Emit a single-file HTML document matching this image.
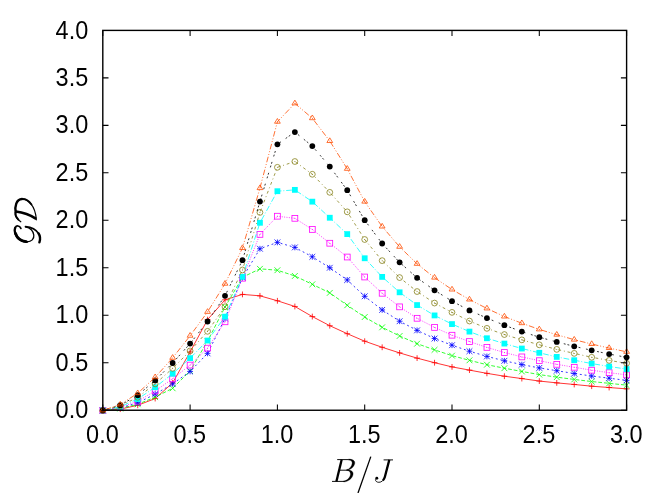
<!DOCTYPE html>
<html><head><meta charset="utf-8"><title>GD vs B/J</title>
<style>
html,body{margin:0;padding:0;background:#fff;}
body{width:664px;height:493px;overflow:hidden;font-family:"Liberation Sans",sans-serif;}
svg{display:block;}
</style></head><body>
<svg width="664" height="493" viewBox="0 0 664 493">
<rect width="664" height="493" fill="#fff"/>
<g opacity="0.999" font-family="Liberation Sans, sans-serif" font-size="22.8" fill="#000">
<text transform="translate(88.2,418.35) scale(1.03,1.14)" text-anchor="end">0.0</text>
<text transform="translate(88.2,370.87) scale(1.03,1.14)" text-anchor="end">0.5</text>
<text transform="translate(88.2,323.39) scale(1.03,1.14)" text-anchor="end">1.0</text>
<text transform="translate(88.2,275.91) scale(1.03,1.14)" text-anchor="end">1.5</text>
<text transform="translate(88.2,228.42) scale(1.03,1.14)" text-anchor="end">2.0</text>
<text transform="translate(88.2,180.94) scale(1.03,1.14)" text-anchor="end">2.5</text>
<text transform="translate(88.2,133.46) scale(1.03,1.14)" text-anchor="end">3.0</text>
<text transform="translate(88.2,85.98) scale(1.03,1.14)" text-anchor="end">3.5</text>
<text transform="translate(88.2,38.5) scale(1.03,1.14)" text-anchor="end">4.0</text>
<text transform="translate(102.4,443.0) scale(1.03,1.14)" text-anchor="middle">0.0</text>
<text transform="translate(189.7,443.0) scale(1.03,1.14)" text-anchor="middle">0.5</text>
<text transform="translate(277,443.0) scale(1.03,1.14)" text-anchor="middle">1.0</text>
<text transform="translate(364.3,443.0) scale(1.03,1.14)" text-anchor="middle">1.5</text>
<text transform="translate(451.6,443.0) scale(1.03,1.14)" text-anchor="middle">2.0</text>
<text transform="translate(538.9,443.0) scale(1.03,1.14)" text-anchor="middle">2.5</text>
<text transform="translate(626.2,443.0) scale(1.03,1.14)" text-anchor="middle">3.0</text>
</g>
<g fill="none" stroke="#ff0000" stroke-width="0.8">
<path d="M102.8 410.45L120.26 409.12L137.72 405.31L155.18 398.56L172.64 382.87L190.1 351.95L207.56 319.61L225.02 299.83L242.48 294.4L259.94 295.83L277.4 300.78L294.86 306.48L312.32 316.57L329.78 325.7L347.24 333.69L364.7 341.2L382.16 347.29L399.62 352.9L417.08 358.13L434.54 362.7L452 366.89L469.46 370.12L486.92 373.35L504.38 376.21L521.84 378.58L539.3 381.06L556.76 382.87L574.22 384.48L591.68 386.19L609.14 387.53L626.6 388.86"/>
<g stroke-width="0.8"><path d="M102.8 407.55V413.35M99.9 410.45H105.7"/><path d="M120.26 406.22V412.02M117.36 409.12H123.16"/><path d="M137.72 402.41V408.21M134.82 405.31H140.62"/><path d="M155.18 395.66V401.46M152.28 398.56H158.08"/><path d="M172.64 379.97V385.77M169.74 382.87H175.54"/><path d="M190.1 349.05V354.85M187.2 351.95H193"/><path d="M207.56 316.71V322.51M204.66 319.61H210.46"/><path d="M225.02 296.93V302.73M222.12 299.83H227.92"/><path d="M242.48 291.5V297.3M239.58 294.4H245.38"/><path d="M259.94 292.93V298.73M257.04 295.83H262.84"/><path d="M277.4 297.88V303.68M274.5 300.78H280.3"/><path d="M294.86 303.58V309.38M291.96 306.48H297.76"/><path d="M312.32 313.67V319.47M309.42 316.57H315.22"/><path d="M329.78 322.8V328.6M326.88 325.7H332.68"/><path d="M347.24 330.79V336.59M344.34 333.69H350.14"/><path d="M364.7 338.3V344.1M361.8 341.2H367.6"/><path d="M382.16 344.39V350.19M379.26 347.29H385.06"/><path d="M399.62 350V355.8M396.72 352.9H402.52"/><path d="M417.08 355.23V361.03M414.18 358.13H419.98"/><path d="M434.54 359.8V365.6M431.64 362.7H437.44"/><path d="M452 363.99V369.79M449.1 366.89H454.9"/><path d="M469.46 367.22V373.02M466.56 370.12H472.36"/><path d="M486.92 370.45V376.25M484.02 373.35H489.82"/><path d="M504.38 373.31V379.11M501.48 376.21H507.28"/><path d="M521.84 375.68V381.48M518.94 378.58H524.74"/><path d="M539.3 378.16V383.96M536.4 381.06H542.2"/><path d="M556.76 379.97V385.77M553.86 382.87H559.66"/><path d="M574.22 381.58V387.38M571.32 384.48H577.12"/><path d="M591.68 383.29V389.09M588.78 386.19H594.58"/><path d="M609.14 384.63V390.43M606.24 387.53H612.04"/><path d="M626.6 385.96V391.76M623.7 388.86H629.5"/></g>
</g>
<g fill="none" stroke="#00ff00" stroke-width="0.8">
<path d="M102.8 410.45L120.26 408.55L137.72 404.27L155.18 397.13L172.64 388.29L190.1 370.98L207.56 341.01L225.02 307.05L242.48 277.28L259.94 268.82L277.4 270.24L294.86 275.95L312.32 284.32L329.78 292.88L347.24 305.25L364.7 317.04L382.16 327.32L399.62 335.97L417.08 343.68L434.54 349.86L452 355.66L469.46 360.32L486.92 364.7L504.38 368.22L521.84 371.45L539.3 374.59L556.76 377.16L574.22 379.44L591.68 381.53L609.14 383.34L626.6 385.15" stroke-dasharray="3.8 1.9"/>
<g stroke-width="0.8"><path d="M99.9 407.55L105.7 413.35M99.9 413.35L105.7 407.55"/><path d="M117.36 405.65L123.16 411.45M117.36 411.45L123.16 405.65"/><path d="M134.82 401.37L140.62 407.17M134.82 407.17L140.62 401.37"/><path d="M152.28 394.23L158.08 400.03M152.28 400.03L158.08 394.23"/><path d="M169.74 385.39L175.54 391.19M169.74 391.19L175.54 385.39"/><path d="M187.2 368.08L193 373.88M187.2 373.88L193 368.08"/><path d="M204.66 338.11L210.46 343.91M204.66 343.91L210.46 338.11"/><path d="M222.12 304.15L227.92 309.95M222.12 309.95L227.92 304.15"/><path d="M239.58 274.38L245.38 280.18M239.58 280.18L245.38 274.38"/><path d="M257.04 265.92L262.84 271.72M257.04 271.72L262.84 265.92"/><path d="M274.5 267.34L280.3 273.14M274.5 273.14L280.3 267.34"/><path d="M291.96 273.05L297.76 278.85M291.96 278.85L297.76 273.05"/><path d="M309.42 281.42L315.22 287.22M309.42 287.22L315.22 281.42"/><path d="M326.88 289.98L332.68 295.78M326.88 295.78L332.68 289.98"/><path d="M344.34 302.35L350.14 308.15M344.34 308.15L350.14 302.35"/><path d="M361.8 314.14L367.6 319.94M361.8 319.94L367.6 314.14"/><path d="M379.26 324.42L385.06 330.22M379.26 330.22L385.06 324.42"/><path d="M396.72 333.07L402.52 338.87M396.72 338.87L402.52 333.07"/><path d="M414.18 340.78L419.98 346.58M414.18 346.58L419.98 340.78"/><path d="M431.64 346.96L437.44 352.76M431.64 352.76L437.44 346.96"/><path d="M449.1 352.76L454.9 358.56M449.1 358.56L454.9 352.76"/><path d="M466.56 357.42L472.36 363.22M466.56 363.22L472.36 357.42"/><path d="M484.02 361.8L489.82 367.6M484.02 367.6L489.82 361.8"/><path d="M501.48 365.32L507.28 371.12M501.48 371.12L507.28 365.32"/><path d="M518.94 368.55L524.74 374.35M518.94 374.35L524.74 368.55"/><path d="M536.4 371.69L542.2 377.49M536.4 377.49L542.2 371.69"/><path d="M553.86 374.26L559.66 380.06M553.86 380.06L559.66 374.26"/><path d="M571.32 376.54L577.12 382.34M571.32 382.34L577.12 376.54"/><path d="M588.78 378.63L594.58 384.43M588.78 384.43L594.58 378.63"/><path d="M606.24 380.44L612.04 386.24M606.24 386.24L612.04 380.44"/><path d="M623.7 382.25L629.5 388.05M623.7 388.05L629.5 382.25"/></g>
</g>
<g fill="none" stroke="#0000ff" stroke-width="0.8">
<path d="M102.8 410.45L120.26 407.98L137.72 402.84L155.18 394.09L172.64 383.91L190.1 371.45L207.56 353.38L225.02 318.47L242.48 277.76L259.94 248.75L277.4 242.37L294.86 247.41L312.32 256.83L329.78 267.77L347.24 279.95L364.7 296.31L382.16 309.91L399.62 321.23L417.08 330.36L434.54 338.54L452 345.2L469.46 351.19L486.92 356.42L504.38 360.8L521.84 364.6L539.3 367.93L556.76 370.69L574.22 373.54L591.68 376.02L609.14 378.2L626.6 380.39" stroke-dasharray="1.9 2.85"/>
<g stroke-width="0.8"><path d="M102.8 407.55V413.35M99.9 410.45H105.7"/><path d="M99.9 407.55L105.7 413.35M99.9 413.35L105.7 407.55"/><path d="M120.26 405.08V410.88M117.36 407.98H123.16"/><path d="M117.36 405.08L123.16 410.88M117.36 410.88L123.16 405.08"/><path d="M137.72 399.94V405.74M134.82 402.84H140.62"/><path d="M134.82 399.94L140.62 405.74M134.82 405.74L140.62 399.94"/><path d="M155.18 391.19V396.99M152.28 394.09H158.08"/><path d="M152.28 391.19L158.08 396.99M152.28 396.99L158.08 391.19"/><path d="M172.64 381.01V386.81M169.74 383.91H175.54"/><path d="M169.74 381.01L175.54 386.81M169.74 386.81L175.54 381.01"/><path d="M190.1 368.55V374.35M187.2 371.45H193"/><path d="M187.2 368.55L193 374.35M187.2 374.35L193 368.55"/><path d="M207.56 350.48V356.28M204.66 353.38H210.46"/><path d="M204.66 350.48L210.46 356.28M204.66 356.28L210.46 350.48"/><path d="M225.02 315.57V321.37M222.12 318.47H227.92"/><path d="M222.12 315.57L227.92 321.37M222.12 321.37L227.92 315.57"/><path d="M242.48 274.86V280.66M239.58 277.76H245.38"/><path d="M239.58 274.86L245.38 280.66M239.58 280.66L245.38 274.86"/><path d="M259.94 245.85V251.65M257.04 248.75H262.84"/><path d="M257.04 245.85L262.84 251.65M257.04 251.65L262.84 245.85"/><path d="M277.4 239.47V245.27M274.5 242.37H280.3"/><path d="M274.5 239.47L280.3 245.27M274.5 245.27L280.3 239.47"/><path d="M294.86 244.51V250.31M291.96 247.41H297.76"/><path d="M291.96 244.51L297.76 250.31M291.96 250.31L297.76 244.51"/><path d="M312.32 253.93V259.73M309.42 256.83H315.22"/><path d="M309.42 253.93L315.22 259.73M309.42 259.73L315.22 253.93"/><path d="M329.78 264.87V270.67M326.88 267.77H332.68"/><path d="M326.88 264.87L332.68 270.67M326.88 270.67L332.68 264.87"/><path d="M347.24 277.05V282.85M344.34 279.95H350.14"/><path d="M344.34 277.05L350.14 282.85M344.34 282.85L350.14 277.05"/><path d="M364.7 293.41V299.21M361.8 296.31H367.6"/><path d="M361.8 293.41L367.6 299.21M361.8 299.21L367.6 293.41"/><path d="M382.16 307.01V312.81M379.26 309.91H385.06"/><path d="M379.26 307.01L385.06 312.81M379.26 312.81L385.06 307.01"/><path d="M399.62 318.33V324.13M396.72 321.23H402.52"/><path d="M396.72 318.33L402.52 324.13M396.72 324.13L402.52 318.33"/><path d="M417.08 327.46V333.26M414.18 330.36H419.98"/><path d="M414.18 327.46L419.98 333.26M414.18 333.26L419.98 327.46"/><path d="M434.54 335.64V341.44M431.64 338.54H437.44"/><path d="M431.64 335.64L437.44 341.44M431.64 341.44L437.44 335.64"/><path d="M452 342.3V348.1M449.1 345.2H454.9"/><path d="M449.1 342.3L454.9 348.1M449.1 348.1L454.9 342.3"/><path d="M469.46 348.29V354.09M466.56 351.19H472.36"/><path d="M466.56 348.29L472.36 354.09M466.56 354.09L472.36 348.29"/><path d="M486.92 353.52V359.32M484.02 356.42H489.82"/><path d="M484.02 353.52L489.82 359.32M484.02 359.32L489.82 353.52"/><path d="M504.38 357.9V363.7M501.48 360.8H507.28"/><path d="M501.48 357.9L507.28 363.7M501.48 363.7L507.28 357.9"/><path d="M521.84 361.7V367.5M518.94 364.6H524.74"/><path d="M518.94 361.7L524.74 367.5M518.94 367.5L524.74 361.7"/><path d="M539.3 365.03V370.83M536.4 367.93H542.2"/><path d="M536.4 365.03L542.2 370.83M536.4 370.83L542.2 365.03"/><path d="M556.76 367.79V373.59M553.86 370.69H559.66"/><path d="M553.86 367.79L559.66 373.59M553.86 373.59L559.66 367.79"/><path d="M574.22 370.64V376.44M571.32 373.54H577.12"/><path d="M571.32 370.64L577.12 376.44M571.32 376.44L577.12 370.64"/><path d="M591.68 373.12V378.92M588.78 376.02H594.58"/><path d="M588.78 373.12L594.58 378.92M588.78 378.92L594.58 373.12"/><path d="M609.14 375.3V381.1M606.24 378.2H612.04"/><path d="M606.24 375.3L612.04 381.1M606.24 381.1L612.04 375.3"/><path d="M626.6 377.49V383.29M623.7 380.39H629.5"/><path d="M623.7 377.49L629.5 383.29M623.7 383.29L629.5 377.49"/></g>
</g>
<g fill="none" stroke="#ff00ff" stroke-width="0.8">
<path d="M102.8 410.45L120.26 407.31L137.72 401.22L155.18 390.95L172.64 378.78L190.1 365.08L207.56 348.15L225.02 321.8L242.48 278.23L259.94 234.38L277.4 216.21L294.86 218.31L312.32 229.44L329.78 243.23L347.24 257.02L364.7 277L382.16 293.26L399.62 306.86L417.08 318.28L434.54 327.41L452 335.21L469.46 341.58L486.92 347.39L504.38 352.52L521.84 356.9L539.3 360.7L556.76 364.32L574.22 367.27L591.68 370.21L609.14 372.69L626.6 374.88" stroke-dasharray="0.95 1.42"/>
<g stroke-width="0.8"><rect x="99.9" y="407.55" width="5.8" height="5.8"/><circle cx="102.8" cy="410.45" r="0.5" fill="#ff00ff" stroke="none"/><rect x="117.36" y="404.41" width="5.8" height="5.8"/><circle cx="120.26" cy="407.31" r="0.5" fill="#ff00ff" stroke="none"/><rect x="134.82" y="398.32" width="5.8" height="5.8"/><circle cx="137.72" cy="401.22" r="0.5" fill="#ff00ff" stroke="none"/><rect x="152.28" y="388.05" width="5.8" height="5.8"/><circle cx="155.18" cy="390.95" r="0.5" fill="#ff00ff" stroke="none"/><rect x="169.74" y="375.88" width="5.8" height="5.8"/><circle cx="172.64" cy="378.78" r="0.5" fill="#ff00ff" stroke="none"/><rect x="187.2" y="362.18" width="5.8" height="5.8"/><circle cx="190.1" cy="365.08" r="0.5" fill="#ff00ff" stroke="none"/><rect x="204.66" y="345.25" width="5.8" height="5.8"/><circle cx="207.56" cy="348.15" r="0.5" fill="#ff00ff" stroke="none"/><rect x="222.12" y="318.9" width="5.8" height="5.8"/><circle cx="225.02" cy="321.8" r="0.5" fill="#ff00ff" stroke="none"/><rect x="239.58" y="275.33" width="5.8" height="5.8"/><circle cx="242.48" cy="278.23" r="0.5" fill="#ff00ff" stroke="none"/><rect x="257.04" y="231.48" width="5.8" height="5.8"/><circle cx="259.94" cy="234.38" r="0.5" fill="#ff00ff" stroke="none"/><rect x="274.5" y="213.31" width="5.8" height="5.8"/><circle cx="277.4" cy="216.21" r="0.5" fill="#ff00ff" stroke="none"/><rect x="291.96" y="215.41" width="5.8" height="5.8"/><circle cx="294.86" cy="218.31" r="0.5" fill="#ff00ff" stroke="none"/><rect x="309.42" y="226.54" width="5.8" height="5.8"/><circle cx="312.32" cy="229.44" r="0.5" fill="#ff00ff" stroke="none"/><rect x="326.88" y="240.33" width="5.8" height="5.8"/><circle cx="329.78" cy="243.23" r="0.5" fill="#ff00ff" stroke="none"/><rect x="344.34" y="254.12" width="5.8" height="5.8"/><circle cx="347.24" cy="257.02" r="0.5" fill="#ff00ff" stroke="none"/><rect x="361.8" y="274.1" width="5.8" height="5.8"/><circle cx="364.7" cy="277" r="0.5" fill="#ff00ff" stroke="none"/><rect x="379.26" y="290.36" width="5.8" height="5.8"/><circle cx="382.16" cy="293.26" r="0.5" fill="#ff00ff" stroke="none"/><rect x="396.72" y="303.96" width="5.8" height="5.8"/><circle cx="399.62" cy="306.86" r="0.5" fill="#ff00ff" stroke="none"/><rect x="414.18" y="315.38" width="5.8" height="5.8"/><circle cx="417.08" cy="318.28" r="0.5" fill="#ff00ff" stroke="none"/><rect x="431.64" y="324.51" width="5.8" height="5.8"/><circle cx="434.54" cy="327.41" r="0.5" fill="#ff00ff" stroke="none"/><rect x="449.1" y="332.31" width="5.8" height="5.8"/><circle cx="452" cy="335.21" r="0.5" fill="#ff00ff" stroke="none"/><rect x="466.56" y="338.68" width="5.8" height="5.8"/><circle cx="469.46" cy="341.58" r="0.5" fill="#ff00ff" stroke="none"/><rect x="484.02" y="344.49" width="5.8" height="5.8"/><circle cx="486.92" cy="347.39" r="0.5" fill="#ff00ff" stroke="none"/><rect x="501.48" y="349.62" width="5.8" height="5.8"/><circle cx="504.38" cy="352.52" r="0.5" fill="#ff00ff" stroke="none"/><rect x="518.94" y="354" width="5.8" height="5.8"/><circle cx="521.84" cy="356.9" r="0.5" fill="#ff00ff" stroke="none"/><rect x="536.4" y="357.8" width="5.8" height="5.8"/><circle cx="539.3" cy="360.7" r="0.5" fill="#ff00ff" stroke="none"/><rect x="553.86" y="361.42" width="5.8" height="5.8"/><circle cx="556.76" cy="364.32" r="0.5" fill="#ff00ff" stroke="none"/><rect x="571.32" y="364.37" width="5.8" height="5.8"/><circle cx="574.22" cy="367.27" r="0.5" fill="#ff00ff" stroke="none"/><rect x="588.78" y="367.31" width="5.8" height="5.8"/><circle cx="591.68" cy="370.21" r="0.5" fill="#ff00ff" stroke="none"/><rect x="606.24" y="369.79" width="5.8" height="5.8"/><circle cx="609.14" cy="372.69" r="0.5" fill="#ff00ff" stroke="none"/><rect x="623.7" y="371.98" width="5.8" height="5.8"/><circle cx="626.6" cy="374.88" r="0.5" fill="#ff00ff" stroke="none"/></g>
</g>
<g fill="none" stroke="#00ffff" stroke-width="0.8">
<path d="M102.8 410.45L120.26 406.65L137.72 399.04L155.18 387.24L172.64 373.73L190.1 358.13L207.56 340.54L225.02 316.66L242.48 276.81L259.94 222.78L277.4 191.2L294.86 189.87L312.32 201.66L329.78 217.74L347.24 234.1L364.7 258.26L382.16 276.9L399.62 292.31L417.08 305.06L434.54 315.43L452 324.08L469.46 331.6L486.92 338.25L504.38 343.58L521.84 348.53L539.3 352.81L556.76 356.9L574.22 360.23L591.68 363.56L609.14 366.5L626.6 369.07" stroke-dasharray="5.7 1.9 0.95 1.9"/>
<g stroke-width="0.8"><rect x="99.9" y="407.55" width="5.8" height="5.8" fill="#00ffff" stroke="none"/><rect x="117.36" y="403.75" width="5.8" height="5.8" fill="#00ffff" stroke="none"/><rect x="134.82" y="396.14" width="5.8" height="5.8" fill="#00ffff" stroke="none"/><rect x="152.28" y="384.34" width="5.8" height="5.8" fill="#00ffff" stroke="none"/><rect x="169.74" y="370.83" width="5.8" height="5.8" fill="#00ffff" stroke="none"/><rect x="187.2" y="355.23" width="5.8" height="5.8" fill="#00ffff" stroke="none"/><rect x="204.66" y="337.64" width="5.8" height="5.8" fill="#00ffff" stroke="none"/><rect x="222.12" y="313.76" width="5.8" height="5.8" fill="#00ffff" stroke="none"/><rect x="239.58" y="273.91" width="5.8" height="5.8" fill="#00ffff" stroke="none"/><rect x="257.04" y="219.88" width="5.8" height="5.8" fill="#00ffff" stroke="none"/><rect x="274.5" y="188.3" width="5.8" height="5.8" fill="#00ffff" stroke="none"/><rect x="291.96" y="186.97" width="5.8" height="5.8" fill="#00ffff" stroke="none"/><rect x="309.42" y="198.76" width="5.8" height="5.8" fill="#00ffff" stroke="none"/><rect x="326.88" y="214.84" width="5.8" height="5.8" fill="#00ffff" stroke="none"/><rect x="344.34" y="231.2" width="5.8" height="5.8" fill="#00ffff" stroke="none"/><rect x="361.8" y="255.36" width="5.8" height="5.8" fill="#00ffff" stroke="none"/><rect x="379.26" y="274" width="5.8" height="5.8" fill="#00ffff" stroke="none"/><rect x="396.72" y="289.41" width="5.8" height="5.8" fill="#00ffff" stroke="none"/><rect x="414.18" y="302.16" width="5.8" height="5.8" fill="#00ffff" stroke="none"/><rect x="431.64" y="312.53" width="5.8" height="5.8" fill="#00ffff" stroke="none"/><rect x="449.1" y="321.18" width="5.8" height="5.8" fill="#00ffff" stroke="none"/><rect x="466.56" y="328.7" width="5.8" height="5.8" fill="#00ffff" stroke="none"/><rect x="484.02" y="335.35" width="5.8" height="5.8" fill="#00ffff" stroke="none"/><rect x="501.48" y="340.68" width="5.8" height="5.8" fill="#00ffff" stroke="none"/><rect x="518.94" y="345.63" width="5.8" height="5.8" fill="#00ffff" stroke="none"/><rect x="536.4" y="349.91" width="5.8" height="5.8" fill="#00ffff" stroke="none"/><rect x="553.86" y="354" width="5.8" height="5.8" fill="#00ffff" stroke="none"/><rect x="571.32" y="357.33" width="5.8" height="5.8" fill="#00ffff" stroke="none"/><rect x="588.78" y="360.66" width="5.8" height="5.8" fill="#00ffff" stroke="none"/><rect x="606.24" y="363.6" width="5.8" height="5.8" fill="#00ffff" stroke="none"/><rect x="623.7" y="366.17" width="5.8" height="5.8" fill="#00ffff" stroke="none"/></g>
</g>
<g fill="none" stroke="#86821a" stroke-width="0.8">
<path d="M102.8 410.45L120.26 405.88L137.72 397.32L155.18 383.91L172.64 368.31L190.1 350.9L207.56 331.31L225.02 306.77L242.48 269.96L259.94 212.41L277.4 167.32L294.86 161.52L312.32 174.27L329.78 192.34L347.24 211.84L364.7 239.52L382.16 260.64L399.62 277.57L417.08 291.55L434.54 303.06L452 312.38L469.46 321.04L486.92 328.36L504.38 334.54L521.84 339.87L539.3 344.82L556.76 349.38L574.22 353.38L591.68 357.28L609.14 360.42L626.6 363.27" stroke-dasharray="2.85 2.85 0.95 2.85"/>
<g stroke-width="0.8"><circle cx="102.8" cy="410.45" r="2.9"/><circle cx="102.8" cy="410.45" r="0.5" fill="#86821a" stroke="none"/><circle cx="120.26" cy="405.88" r="2.9"/><circle cx="120.26" cy="405.88" r="0.5" fill="#86821a" stroke="none"/><circle cx="137.72" cy="397.32" r="2.9"/><circle cx="137.72" cy="397.32" r="0.5" fill="#86821a" stroke="none"/><circle cx="155.18" cy="383.91" r="2.9"/><circle cx="155.18" cy="383.91" r="0.5" fill="#86821a" stroke="none"/><circle cx="172.64" cy="368.31" r="2.9"/><circle cx="172.64" cy="368.31" r="0.5" fill="#86821a" stroke="none"/><circle cx="190.1" cy="350.9" r="2.9"/><circle cx="190.1" cy="350.9" r="0.5" fill="#86821a" stroke="none"/><circle cx="207.56" cy="331.31" r="2.9"/><circle cx="207.56" cy="331.31" r="0.5" fill="#86821a" stroke="none"/><circle cx="225.02" cy="306.77" r="2.9"/><circle cx="225.02" cy="306.77" r="0.5" fill="#86821a" stroke="none"/><circle cx="242.48" cy="269.96" r="2.9"/><circle cx="242.48" cy="269.96" r="0.5" fill="#86821a" stroke="none"/><circle cx="259.94" cy="212.41" r="2.9"/><circle cx="259.94" cy="212.41" r="0.5" fill="#86821a" stroke="none"/><circle cx="277.4" cy="167.32" r="2.9"/><circle cx="277.4" cy="167.32" r="0.5" fill="#86821a" stroke="none"/><circle cx="294.86" cy="161.52" r="2.9"/><circle cx="294.86" cy="161.52" r="0.5" fill="#86821a" stroke="none"/><circle cx="312.32" cy="174.27" r="2.9"/><circle cx="312.32" cy="174.27" r="0.5" fill="#86821a" stroke="none"/><circle cx="329.78" cy="192.34" r="2.9"/><circle cx="329.78" cy="192.34" r="0.5" fill="#86821a" stroke="none"/><circle cx="347.24" cy="211.84" r="2.9"/><circle cx="347.24" cy="211.84" r="0.5" fill="#86821a" stroke="none"/><circle cx="364.7" cy="239.52" r="2.9"/><circle cx="364.7" cy="239.52" r="0.5" fill="#86821a" stroke="none"/><circle cx="382.16" cy="260.64" r="2.9"/><circle cx="382.16" cy="260.64" r="0.5" fill="#86821a" stroke="none"/><circle cx="399.62" cy="277.57" r="2.9"/><circle cx="399.62" cy="277.57" r="0.5" fill="#86821a" stroke="none"/><circle cx="417.08" cy="291.55" r="2.9"/><circle cx="417.08" cy="291.55" r="0.5" fill="#86821a" stroke="none"/><circle cx="434.54" cy="303.06" r="2.9"/><circle cx="434.54" cy="303.06" r="0.5" fill="#86821a" stroke="none"/><circle cx="452" cy="312.38" r="2.9"/><circle cx="452" cy="312.38" r="0.5" fill="#86821a" stroke="none"/><circle cx="469.46" cy="321.04" r="2.9"/><circle cx="469.46" cy="321.04" r="0.5" fill="#86821a" stroke="none"/><circle cx="486.92" cy="328.36" r="2.9"/><circle cx="486.92" cy="328.36" r="0.5" fill="#86821a" stroke="none"/><circle cx="504.38" cy="334.54" r="2.9"/><circle cx="504.38" cy="334.54" r="0.5" fill="#86821a" stroke="none"/><circle cx="521.84" cy="339.87" r="2.9"/><circle cx="521.84" cy="339.87" r="0.5" fill="#86821a" stroke="none"/><circle cx="539.3" cy="344.82" r="2.9"/><circle cx="539.3" cy="344.82" r="0.5" fill="#86821a" stroke="none"/><circle cx="556.76" cy="349.38" r="2.9"/><circle cx="556.76" cy="349.38" r="0.5" fill="#86821a" stroke="none"/><circle cx="574.22" cy="353.38" r="2.9"/><circle cx="574.22" cy="353.38" r="0.5" fill="#86821a" stroke="none"/><circle cx="591.68" cy="357.28" r="2.9"/><circle cx="591.68" cy="357.28" r="0.5" fill="#86821a" stroke="none"/><circle cx="609.14" cy="360.42" r="2.9"/><circle cx="609.14" cy="360.42" r="0.5" fill="#86821a" stroke="none"/><circle cx="626.6" cy="363.27" r="2.9"/><circle cx="626.6" cy="363.27" r="0.5" fill="#86821a" stroke="none"/></g>
</g>
<g fill="none" stroke="#000000" stroke-width="0.8">
<path d="M102.8 410.45L120.26 405.22L137.72 395.23L155.18 380.39L172.64 362.99L190.1 343.58L207.56 321.51L225.02 295.83L242.48 260.16L259.94 201.57L277.4 144.3L294.86 132.03L312.32 146.11L329.78 166.56L347.24 190.15L364.7 220.21L382.16 243.51L399.62 262.35L417.08 277.85L434.54 290.31L452 301.16L469.46 310.38L486.92 318.09L504.38 325.22L521.84 331.6L539.3 337.21L556.76 341.96L574.22 346.34L591.68 350.33L609.14 354.04L626.6 357.37" stroke-dasharray="1.9 1.9 1.9 5.7"/>
<g stroke-width="0.8"><circle cx="102.8" cy="410.45" r="2.9" fill="#000000" stroke="none"/><circle cx="120.26" cy="405.22" r="2.9" fill="#000000" stroke="none"/><circle cx="137.72" cy="395.23" r="2.9" fill="#000000" stroke="none"/><circle cx="155.18" cy="380.39" r="2.9" fill="#000000" stroke="none"/><circle cx="172.64" cy="362.99" r="2.9" fill="#000000" stroke="none"/><circle cx="190.1" cy="343.58" r="2.9" fill="#000000" stroke="none"/><circle cx="207.56" cy="321.51" r="2.9" fill="#000000" stroke="none"/><circle cx="225.02" cy="295.83" r="2.9" fill="#000000" stroke="none"/><circle cx="242.48" cy="260.16" r="2.9" fill="#000000" stroke="none"/><circle cx="259.94" cy="201.57" r="2.9" fill="#000000" stroke="none"/><circle cx="277.4" cy="144.3" r="2.9" fill="#000000" stroke="none"/><circle cx="294.86" cy="132.03" r="2.9" fill="#000000" stroke="none"/><circle cx="312.32" cy="146.11" r="2.9" fill="#000000" stroke="none"/><circle cx="329.78" cy="166.56" r="2.9" fill="#000000" stroke="none"/><circle cx="347.24" cy="190.15" r="2.9" fill="#000000" stroke="none"/><circle cx="364.7" cy="220.21" r="2.9" fill="#000000" stroke="none"/><circle cx="382.16" cy="243.51" r="2.9" fill="#000000" stroke="none"/><circle cx="399.62" cy="262.35" r="2.9" fill="#000000" stroke="none"/><circle cx="417.08" cy="277.85" r="2.9" fill="#000000" stroke="none"/><circle cx="434.54" cy="290.31" r="2.9" fill="#000000" stroke="none"/><circle cx="452" cy="301.16" r="2.9" fill="#000000" stroke="none"/><circle cx="469.46" cy="310.38" r="2.9" fill="#000000" stroke="none"/><circle cx="486.92" cy="318.09" r="2.9" fill="#000000" stroke="none"/><circle cx="504.38" cy="325.22" r="2.9" fill="#000000" stroke="none"/><circle cx="521.84" cy="331.6" r="2.9" fill="#000000" stroke="none"/><circle cx="539.3" cy="337.21" r="2.9" fill="#000000" stroke="none"/><circle cx="556.76" cy="341.96" r="2.9" fill="#000000" stroke="none"/><circle cx="574.22" cy="346.34" r="2.9" fill="#000000" stroke="none"/><circle cx="591.68" cy="350.33" r="2.9" fill="#000000" stroke="none"/><circle cx="609.14" cy="354.04" r="2.9" fill="#000000" stroke="none"/><circle cx="626.6" cy="357.37" r="2.9" fill="#000000" stroke="none"/></g>
</g>
<g fill="none" stroke="#ff4d00" stroke-width="0.8">
<path d="M102.8 410.45L120.26 404.55L137.72 393.23L155.18 377.25L172.64 357.85L190.1 335.78L207.56 311.91L225.02 283.75L242.48 248.08L259.94 188.15L277.4 121.76L294.86 103.4L312.32 118.24L329.78 141.07L347.24 168.85L364.7 201.66L382.16 226.58L399.62 246.84L417.08 263.87L434.54 277.66L452 289.55L469.46 299.54L486.92 308.48L504.38 316.57L521.84 323.22L539.3 329.41L556.76 334.73L574.22 339.68L591.68 344.06L609.14 348.05L626.6 351.86" stroke-dasharray="0.95 1.9 5.7 1.9 0.95 1.9"/>
<g stroke-width="0.8"><path d="M102.8 407.2L99.9 411.9H105.7Z"/><circle cx="102.8" cy="410.45" r="0.4" fill="#ff4d00" stroke="none"/><path d="M120.26 401.3L117.36 406H123.16Z"/><circle cx="120.26" cy="404.55" r="0.4" fill="#ff4d00" stroke="none"/><path d="M137.72 389.99L134.82 394.68H140.62Z"/><circle cx="137.72" cy="393.23" r="0.4" fill="#ff4d00" stroke="none"/><path d="M155.18 374.01L152.28 378.7H158.08Z"/><circle cx="155.18" cy="377.25" r="0.4" fill="#ff4d00" stroke="none"/><path d="M172.64 354.6L169.74 359.3H175.54Z"/><circle cx="172.64" cy="357.85" r="0.4" fill="#ff4d00" stroke="none"/><path d="M190.1 332.53L187.2 337.23H193Z"/><circle cx="190.1" cy="335.78" r="0.4" fill="#ff4d00" stroke="none"/><path d="M207.56 308.66L204.66 313.36H210.46Z"/><circle cx="207.56" cy="311.91" r="0.4" fill="#ff4d00" stroke="none"/><path d="M225.02 280.5L222.12 285.2H227.92Z"/><circle cx="225.02" cy="283.75" r="0.4" fill="#ff4d00" stroke="none"/><path d="M242.48 244.83L239.58 249.53H245.38Z"/><circle cx="242.48" cy="248.08" r="0.4" fill="#ff4d00" stroke="none"/><path d="M259.94 184.91L257.04 189.6H262.84Z"/><circle cx="259.94" cy="188.15" r="0.4" fill="#ff4d00" stroke="none"/><path d="M277.4 118.51L274.5 123.21H280.3Z"/><circle cx="277.4" cy="121.76" r="0.4" fill="#ff4d00" stroke="none"/><path d="M294.86 100.15L291.96 104.85H297.76Z"/><circle cx="294.86" cy="103.4" r="0.4" fill="#ff4d00" stroke="none"/><path d="M312.32 114.99L309.42 119.69H315.22Z"/><circle cx="312.32" cy="118.24" r="0.4" fill="#ff4d00" stroke="none"/><path d="M329.78 137.82L326.88 142.52H332.68Z"/><circle cx="329.78" cy="141.07" r="0.4" fill="#ff4d00" stroke="none"/><path d="M347.24 165.6L344.34 170.3H350.14Z"/><circle cx="347.24" cy="168.85" r="0.4" fill="#ff4d00" stroke="none"/><path d="M364.7 198.41L361.8 203.11H367.6Z"/><circle cx="364.7" cy="201.66" r="0.4" fill="#ff4d00" stroke="none"/><path d="M382.16 223.34L379.26 228.03H385.06Z"/><circle cx="382.16" cy="226.58" r="0.4" fill="#ff4d00" stroke="none"/><path d="M399.62 243.6L396.72 248.29H402.52Z"/><circle cx="399.62" cy="246.84" r="0.4" fill="#ff4d00" stroke="none"/><path d="M417.08 260.62L414.18 265.32H419.98Z"/><circle cx="417.08" cy="263.87" r="0.4" fill="#ff4d00" stroke="none"/><path d="M434.54 274.41L431.64 279.11H437.44Z"/><circle cx="434.54" cy="277.66" r="0.4" fill="#ff4d00" stroke="none"/><path d="M452 286.3L449.1 291H454.9Z"/><circle cx="452" cy="289.55" r="0.4" fill="#ff4d00" stroke="none"/><path d="M469.46 296.29L466.56 300.99H472.36Z"/><circle cx="469.46" cy="299.54" r="0.4" fill="#ff4d00" stroke="none"/><path d="M486.92 305.23L484.02 309.93H489.82Z"/><circle cx="486.92" cy="308.48" r="0.4" fill="#ff4d00" stroke="none"/><path d="M504.38 313.32L501.48 318.02H507.28Z"/><circle cx="504.38" cy="316.57" r="0.4" fill="#ff4d00" stroke="none"/><path d="M521.84 319.98L518.94 324.67H524.74Z"/><circle cx="521.84" cy="323.22" r="0.4" fill="#ff4d00" stroke="none"/><path d="M539.3 326.16L536.4 330.86H542.2Z"/><circle cx="539.3" cy="329.41" r="0.4" fill="#ff4d00" stroke="none"/><path d="M556.76 331.49L553.86 336.18H559.66Z"/><circle cx="556.76" cy="334.73" r="0.4" fill="#ff4d00" stroke="none"/><path d="M574.22 336.43L571.32 341.13H577.12Z"/><circle cx="574.22" cy="339.68" r="0.4" fill="#ff4d00" stroke="none"/><path d="M591.68 340.81L588.78 345.51H594.58Z"/><circle cx="591.68" cy="344.06" r="0.4" fill="#ff4d00" stroke="none"/><path d="M609.14 344.8L606.24 349.5H612.04Z"/><circle cx="609.14" cy="348.05" r="0.4" fill="#ff4d00" stroke="none"/><path d="M626.6 348.61L623.7 353.31H629.5Z"/><circle cx="626.6" cy="351.86" r="0.4" fill="#ff4d00" stroke="none"/></g>
</g>
<g fill="none" stroke="#000" stroke-width="1.4">
<path d="M102.8 410.25V404.55M102.8 30.4V36.1M190.1 410.25V404.55M190.1 30.4V36.1M277.4 410.25V404.55M277.4 30.4V36.1M364.7 410.25V404.55M364.7 30.4V36.1M452 410.25V404.55M452 30.4V36.1M539.3 410.25V404.55M539.3 30.4V36.1M626.6 410.25V404.55M626.6 30.4V36.1M102.8 410.25H108.5M626.6 410.25H620.9M102.8 362.77H108.5M626.6 362.77H620.9M102.8 315.29H108.5M626.6 315.29H620.9M102.8 267.81H108.5M626.6 267.81H620.9M102.8 220.32H108.5M626.6 220.32H620.9M102.8 172.84H108.5M626.6 172.84H620.9M102.8 125.36H108.5M626.6 125.36H620.9M102.8 77.88H108.5M626.6 77.88H620.9M102.8 30.4H108.5M626.6 30.4H620.9" stroke-width="1.05"/>
<rect x="102.8" y="30.4" width="523.8" height="379.85"/>
</g>
<g id="xlabel" fill="none" stroke="#000" stroke-linecap="butt" stroke-linejoin="round">
<!-- B -->
<path d="M337.2 459.6H348.6M332 481.4H344.5M340 470.2H348" stroke-width="0.95"/>
<path d="M341.7 459.6L336.4 481.4" stroke-width="2.3"/>
<path d="M348.4 459.1C353 459.1 355.4 461 354.7 463.7C354 466.6 351 469.8 346.5 470.4L346.5 469.7C349.6 469.2 351.6 466.4 352.1 463.7C352.5 461.4 351.2 460.1 348.4 460.1Z" fill="#000" stroke-width="0.3"/>
<path d="M347.6 469.8C351.5 470 353.7 472 353 474.8C352.1 478.6 348.2 481.9 343.6 481.9L343.6 480.9C346.8 480.9 349.8 478 350.4 474.8C350.8 472.4 349.6 470.8 347.6 470.7Z" fill="#000" stroke-width="0.3"/>
<!-- slash -->
<path d="M370.8 456.6L358 493" stroke-width="1.3"/>
<!-- J -->
<path d="M383.6 459.9H393" stroke-width="0.95"/>
<path d="M389.3 459.9L385 476.5C384 480.3 381.6 482.3 378.9 482.3C376.6 482.3 375.3 481 375.4 479.3" stroke-width="0.9"/>
<path d="M389.3 459.9L384.9 476.8C384.5 478.3 383.8 479.6 382.9 480.5" stroke-width="2.3"/>
<circle cx="376.8" cy="478.3" r="1.45" fill="#000" stroke="none"/>
</g>
<g id="ylabel" fill="none" stroke="#000" stroke-linecap="round" stroke-linejoin="round">
<!-- D (rotated calligraphic) -->
<path d="M15.9 211.6Q27 212.9 36.2 218.9" stroke-width="2.5" stroke-linecap="butt"/>
<path d="M15.7 212.4C14.6 206.5 16.2 199.2 22 199" stroke-width="2.4"/>
<path d="M22 199C27 198.6 35.5 205 36.3 219.8" stroke-width="1.2"/>
<path d="M22 199C25.5 198.8 29 201 31.5 204.5" stroke-width="1.8"/>
<path d="M15.5 212C14.8 215.5 17 219.3 20.8 221.7" stroke-width="1.3"/>
<path d="M15.4 213C15.2 215.5 16.6 217.8 18.4 219.6" stroke-width="1.9"/>
<!-- G (rotated calligraphic) -->
<path d="M20.9 228.4C19.5 225.6 16.4 225 15.2 227.8" stroke-width="1.7"/>
<path d="M15.2 227.8C13.5 232.5 17 241.6 27 241.8" stroke-width="2.3"/>
<path d="M15.6 233.5C17 238 21 241 26 241.6" stroke-width="2.7"/>
<path d="M27 241.8C31.5 241.8 34.3 239 33.8 235C33.3 231 30 227.8 25.5 226.8" stroke-width="1.3"/>
<path d="M25.5 226.6C31 227.2 36 229.5 38.6 233.5" stroke-width="1.7"/>
<path d="M38.6 233.5C40.2 236 40.4 239.5 39.4 242.3" stroke-width="2.4"/>
</g>

</svg>
</body></html>
